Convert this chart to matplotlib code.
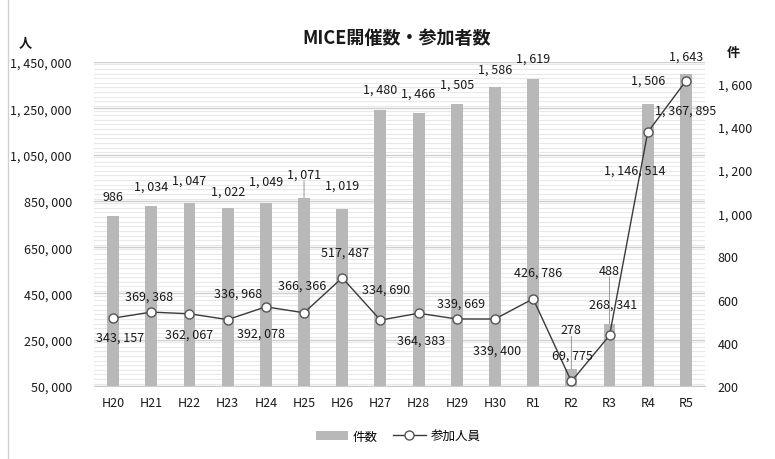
import matplotlib
matplotlib.use("Agg")
import matplotlib.pyplot as plt
from matplotlib.ticker import MultipleLocator, FixedLocator, FuncFormatter
from matplotlib.lines import Line2D

plt.rcParams['font.family'] = ['Noto Sans CJK JP', 'DejaVu Sans']

categories = ["H20", "H21", "H22", "H23", "H24", "H25", "H26", "H27",
              "H28", "H29", "H30", "R1", "R2", "R3", "R4", "R5"]
events = [986, 1034, 1047, 1022, 1049, 1071, 1019, 1480,
          1466, 1505, 1586, 1619, 278, 488, 1506, 1643]
participants = [343157, 369368, 362067, 336968, 392078, 366366, 517487, 334690,
                364383, 339669, 339400, 426786, 69775, 268341, 1146514, 1367895]

# label offsets (pixels) relative to point / bar top
line_label_off = [(7, -19), (-2, 16), (0, -20), (10, 26), (-5, -26), (-2, 28),
                  (3, 26), (6, 31), (3, -27), (4, 16), (2, -31), (5, 27),
                  (1, 26), (4, 31), (-13, -38), (0, -29)]
bar_label_off = [(0, 13), (0, 13), (0, 16), (0, 11), (0, 15), (0, 17), (0, 17),
                 (0, 14), (0, 13), (0, 13), (0, 11), (0, 15), (0, 33), (0, 47),
                 (0, 17), (0, 12)]
bar_leader = [False, False, False, False, False, True, False, False,
              False, False, False, False, True, True, False, False]

TXT = '#1a1a1a'
FS = 9


def jp_fmt(v):
    return f"{int(round(v)):,}".replace(",", ", ")


fig = plt.figure(figsize=(7.75, 4.6), dpi=100)
ax = fig.add_axes([94 / 775, 1 - 387 / 460, 611 / 775, 324 / 460])
ax2 = ax.twinx()
ax3 = ax.twinx()

x = list(range(len(categories)))

# left axis (participants) – gridlines
ax.set_xlim(-0.5, len(categories) - 0.5)
ax.set_ylim(50000, 1450000)
ax.yaxis.set_major_locator(FixedLocator([50000 + 200000 * k for k in range(8)]))
ax.yaxis.set_minor_locator(MultipleLocator(20000))
ax.yaxis.set_major_formatter(FuncFormatter(lambda v, p: jp_fmt(v)))
ax.grid(True, which='major', axis='y', color='#cfcfcf', lw=1.0)
ax.grid(True, which='minor', axis='y', color='#e9e9e9', lw=0.8)
ax.set_axisbelow(True)
ax.tick_params(axis='y', which='both', length=0, pad=16, labelsize=FS, colors=TXT)
ax.tick_params(axis='x', length=0, pad=7, labelsize=FS, colors=TXT)
ax.set_xticks(x)
ax.set_xticklabels(categories)
for s in ['top', 'left', 'right']:
    ax.spines[s].set_visible(False)
ax.spines['bottom'].set_color('#cccccc')

# right axis (events) – bars
ax2.set_ylim(200, 1700)
ax2.yaxis.set_major_locator(FixedLocator([200 * k for k in range(1, 9)]))
ax2.yaxis.set_major_formatter(FuncFormatter(lambda v, p: jp_fmt(v)))
ax2.tick_params(axis='y', length=0, pad=9, labelsize=FS, colors=TXT)
for s in ax2.spines.values():
    s.set_visible(False)
bars = ax2.bar(x, events, width=0.31, color='#b8b8b8', label='件数', zorder=2)
for xi, v, off, lead in zip(x, events, bar_label_off, bar_leader):
    ax2.annotate(jp_fmt(v), (xi, v), xytext=off, textcoords='offset pixels',
                 ha='center', va='bottom', fontsize=FS, color=TXT)
    if lead:
        ax2.annotate('', (xi, v), xytext=(0, off[1]), textcoords='offset pixels',
                     arrowprops=dict(arrowstyle='-', color='#888888', lw=0.6,
                                     shrinkA=0, shrinkB=0))

# line axis (shares left scale)
ax3.set_ylim(ax.get_ylim())
ax3.set_yticks([])
for s in ax3.spines.values():
    s.set_visible(False)
line, = ax3.plot(x, participants, color='#3a3a3a', lw=1.0, marker='o', ms=6.5,
                 mfc='white', mec='#555555', mew=1.0, label='参加人員', zorder=3)
for xi, v, off in zip(x, participants, line_label_off):
    ax3.annotate(jp_fmt(v), (xi, v), xytext=off, textcoords='offset pixels',
                 ha='center', va='center', fontsize=FS, color=TXT)

# title and unit labels
fig.text(397 / 775, 1 - 39 / 460, 'MICE開催数・参加者数', ha='center', va='center',
         fontsize=13, fontweight='bold', color=TXT)
fig.text(25 / 775, 1 - 43 / 460, '人', ha='center', va='center', fontsize=9.5,
         fontweight='bold', color=TXT)
fig.text(733 / 775, 1 - 53 / 460, '件', ha='center', va='center', fontsize=9.5,
         fontweight='bold', color=TXT)

fig.legend(handles=[bars, line], labels=['件数', '参加人員'], loc='center',
           bbox_to_anchor=(398 / 775, 1 - 437 / 460), ncol=2, frameon=False,
           fontsize=FS, handlelength=2.6, columnspacing=1.2, handletextpad=0.4)

fig.add_artist(Line2D([8 / 775, 8 / 775], [0, 1], transform=fig.transFigure,
                      color='#d0d0d0', lw=1))

fig.savefig('out.png', dpi=100)
